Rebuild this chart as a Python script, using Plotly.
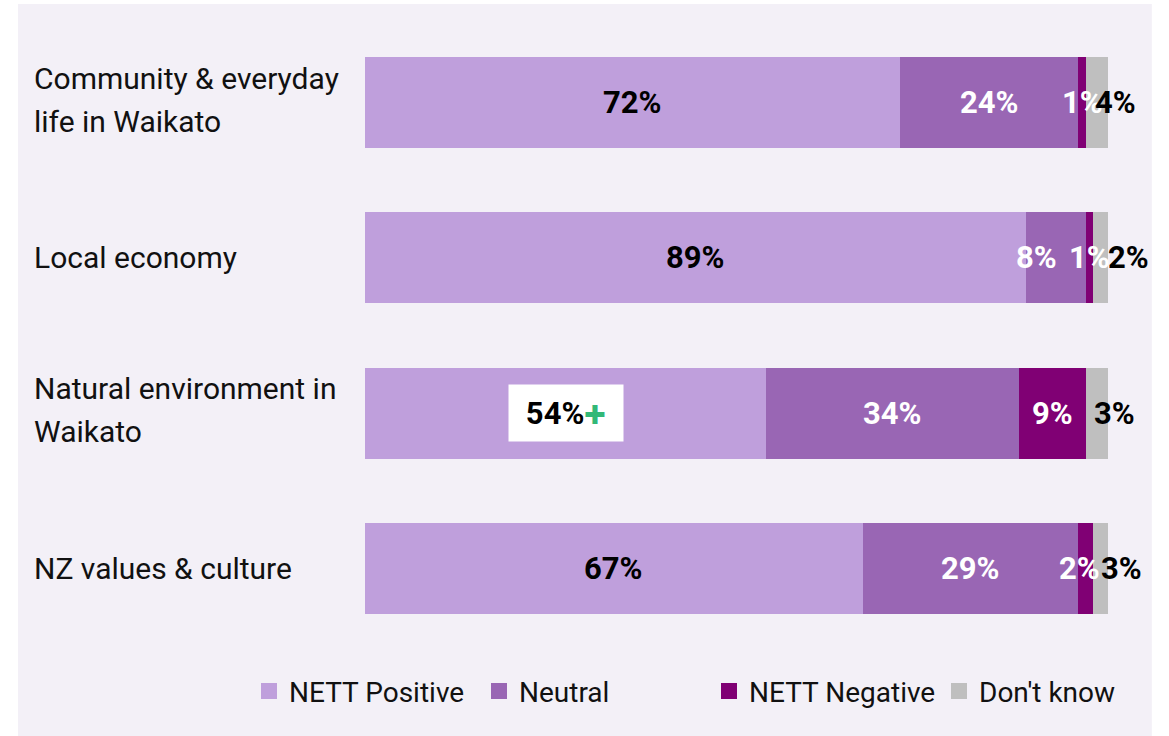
import plotly.graph_objects as go

# Survey results: perceived impact by area (% of respondents)
categories = [
    "Community & everyday<br>life in Waikato",
    "Local economy",
    "Natural environment in<br>Waikato",
    "NZ values & culture",
]
series_names = ["NETT Positive", "Neutral", "NETT Negative", "Don't know"]
nett_positive = [72, 89, 54, 67]
neutral = [24, 8, 34, 29]
nett_negative = [1, 1, 9, 2]
dont_know = [4, 2, 3, 3]

values = [nett_positive, neutral, nett_negative, dont_know]
colors = ["#bf9fdc", "#9966b4", "#800074", "#bfbfbf"]
label_colors = ["#000000", "#ffffff", "#ffffff", "#000000"]

# horizontal nudges (px) for labels of thin segments so they stay readable
label_shift = {
    (1, 1): -19,
    (2, 3): -6,
    (3, 0): 15,
    (3, 1): 28,
    (3, 2): 18,
    (3, 3): 17,
}
highlight = (0, 2)  # NETT Positive, Natural environment: significant increase

FONT = "Roboto"
PANEL = "#f3f0f7"

fig = go.Figure()

for s, name in enumerate(series_names):
    fig.add_trace(go.Bar(
        y=categories, x=values[s], orientation="h", name=name,
        marker=dict(color=colors[s], line=dict(width=0)),
        showlegend=False, hoverinfo="x+name",
    ))
    # legend swatch
    fig.add_trace(go.Scatter(
        x=[None], y=[None], mode="markers", name=name,
        marker=dict(symbol="square", size=17, color=colors[s]),
        showlegend=True,
    ))

annotations = []
for i, cat in enumerate(categories):
    start = 0
    for s in range(len(series_names)):
        v = values[s][i]
        centre = start + v / 2
        start += v
        text = f"{v}%"
        ann = dict(
            x=centre, y=cat, xref="x", yref="y", text=text, showarrow=False,
            font=dict(family=FONT, size=31, color=label_colors[s], weight="bold"),
            xshift=label_shift.get((s, i), 0),
        )
        if (s, i) == highlight:
            ann.update(
                text=text + "<span style='color:#32b877;font-family:DejaVu Sans;"
                            "font-size:26px'>✚</span>",
                bgcolor="#ffffff", width=112, height=54, borderpad=1,
            )
        annotations.append(ann)

    # category label, left aligned in the margin
    lines = cat.split("<br>")
    n = len(lines)
    for k, line in enumerate(lines):
        annotations.append(dict(
            x=-0.448, xref="paper", xanchor="left", y=cat, yref="y",
            yshift=(n - 1) * 24.5 - k * 43,
            text=line, showarrow=False,
            font=dict(family=FONT, size=30, color="#111111"),
        ))

fig.update_layout(
    barmode="stack",
    bargap=0.413,
    width=1169, height=736,
    margin=dict(l=365, r=61, t=25, b=90),
    paper_bgcolor="#ffffff",
    plot_bgcolor="rgba(0,0,0,0)",
    font=dict(family=FONT, color="#111111"),
    xaxis=dict(range=[0, 100], visible=False, fixedrange=True),
    yaxis=dict(autorange="reversed", showticklabels=False, showgrid=False,
               zeroline=False, fixedrange=True),
    legend=dict(
        orientation="h", traceorder="normal",
        x=-0.144, xanchor="left", y=-0.073, yanchor="middle",
        entrywidth=185, entrywidthmode="pixels",
        font=dict(family=FONT, size=28, color="#111111"),
        bgcolor="rgba(0,0,0,0)", itemclick=False, itemdoubleclick=False,
    ),
    annotations=annotations,
    shapes=[dict(
        type="rect", xref="paper", yref="paper",
        x0=-0.467, x1=1.059, y0=-0.2, y1=1.0339,
        fillcolor=PANEL, line=dict(width=0), layer="below",
    )],
    showlegend=True,
)

fig.write_html("out.html")
